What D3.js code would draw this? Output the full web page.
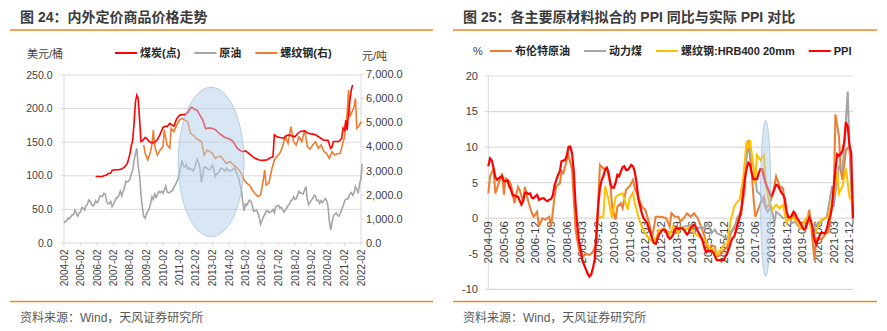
<!DOCTYPE html>
<html>
<head>
<meta charset="utf-8">
<script src="https://cdn.jsdelivr.net/npm/d3@7"></script>
<style>
  body { margin: 0; background: #fff; }
  svg { display: block; font-family: Arial, "Liberation Sans", "Noto Sans CJK SC", sans-serif; }
</style>
</head>
<body>
<svg id="chart" width="887" height="331"></svg>
<script>
// ---------- Figure 24: domestic vs. international commodity prices ----------
// Brent crude, USD/bbl, monthly from 2004-02
const oilStart = "2004-02";
const oilValues = [
  30,32,33,37,36,39,42,42,49,44,40,
  45,46,53,52,49,55,57,64,62,58,55,57,
  63,60,62,70,70,69,74,73,62,58,59,62,
  54,58,62,67,67,71,77,70,77,82,92,91,
  92,95,103,109,123,133,141,114,100,72,53,40,
  37,43,47,51,58,69,65,73,68,73,77,75,
  77,74,79,85,76,75,75,77,78,83,86,91,
  96,104,114,123,114,113,117,110,112,109,110,107,
  111,119,125,119,110,90,102,113,113,111,109,109,
  113,116,109,99,103,103,107,111,111,109,107,111,
  108,109,107,108,110,112,107,102,97,87,79,62,
  48,58,56,60,64,62,56,47,48,49,45,38,
  28,33,39,42,47,48,45,46,47,50,45,54,
  55,56,52,53,50,46,49,52,56,58,63,64,
  69,65,66,72,77,74,74,73,79,84,65,57,
  60,64,66,71,70,63,64,59,63,60,63,66,
  63,55,33,19,31,40,43,45,41,40,44,50,
  55,62,65,65,68,73,75,71,75,84,80,74,
  88,97,118
];
// Coal price index (points, left axis)
const coalMonths = ["2006-01","2006-06","2006-07","2006-09","2006-10","2006-12","2007-01","2007-03","2007-06","2007-08","2007-10","2007-12","2008-01","2008-02","2008-03","2008-04","2008-05","2008-06","2008-07","2008-08","2008-09","2008-10","2008-11","2009-01","2009-02","2009-04","2009-06","2009-08","2009-10","2009-12","2010-02","2010-04","2010-05","2010-07","2010-09","2010-10","2010-12","2011-02","2011-04","2011-06","2011-08","2011-10","2011-11","2012-01","2012-03","2012-05","2012-07","2012-09","2012-11","2013-01","2013-04","2013-07","2013-09","2013-11","2014-01","2014-04","2014-06","2014-08","2014-10","2014-12","2015-02","2015-04","2015-07","2015-09","2015-12","2016-03","2016-06","2016-08","2016-10","2016-11","2017-01","2017-03","2017-06","2017-08","2017-10","2017-12","2018-02","2018-04","2018-06","2018-09","2018-12","2019-03","2019-05","2019-08","2019-11","2020-01","2020-02","2020-03","2020-04","2020-05","2020-06","2020-08","2020-10","2020-12","2021-01","2021-02","2021-03","2021-04","2021-05","2021-06","2021-07","2021-08"];
const coalValues = [99,99,100,101,103,104,108,109,109,110,113,118,125,133,145,153,178,210,220,215,183,151,152,157,156,151,149,150,154,162,172,174,173,178,175,174,185,190,191,191,194,200,202,199,197,190,183,170,171,171,169,163,160,157,156,153,148,141,138,136,137,134,129,126,123.5,123,124,127,128,161,158,157,156,160,161,159,158,163,166,167,163,162,161,157,153,153,153,147,141,143,151,151,151,156,171,168,183,168,193,213,228,235];
// Rebar, CNY/t (right axis)
const rebarMonths = ["2008-12","2009-01","2009-03","2009-05","2009-06","2009-07","2009-08","2009-10","2009-12","2010-02","2010-03","2010-05","2010-07","2010-08","2010-10","2010-12","2011-02","2011-04","2011-06","2011-08","2011-10","2011-12","2012-02","2012-04","2012-06","2012-08","2012-10","2012-12","2013-02","2013-04","2013-06","2013-08","2013-10","2013-12","2014-03","2014-05","2014-07","2014-09","2014-11","2015-01","2015-03","2015-05","2015-07","2015-09","2015-11","2016-01","2016-03","2016-04","2016-05","2016-07","2016-09","2016-11","2017-01","2017-03","2017-05","2017-07","2017-09","2017-11","2018-01","2018-03","2018-05","2018-07","2018-09","2018-11","2019-01","2019-03","2019-05","2019-07","2019-09","2019-11","2020-01","2020-03","2020-05","2020-07","2020-09","2020-11","2021-01","2021-02","2021-03","2021-04","2021-05","2021-06","2021-07","2021-08","2021-09","2021-10","2021-11","2021-12","2022-01","2022-02"];
const rebarValues = [4070,3720,3450,3790,4100,4690,4000,3650,3860,4000,4690,4070,3930,4760,4620,4900,5100,5170,5100,5035,4550,4480,4350,4275,4200,3650,3860,3800,3720,3515,3580,3600,3450,3307,3376,3250,3168,3050,2892,2614,2476,2400,2199,2050,1922,1990,2614,3030,2406,2476,3030,3445,3600,3720,3997,4412,4135,4828,4205,4067,4412,4205,4690,3997,3900,4067,4205,3930,4067,3800,3722,3515,3790,3652,3700,3722,4205,4400,4828,5400,6350,5242,5380,5500,5659,6005,4760,4828,4900,5035];
const leftTicks = [0, 50, 100, 150, 200, 250];
const rightTicks = [0, 1000, 2000, 3000, 4000, 5000, 6000, 7000];
const yearTicks = d3.range(2004, 2023).map(y => y + "-02");
const highlight24 = { from: "2011-01", to: "2015-01", low: 9, high: 232 };

// ---------- Figure 25: fitted PPI y/y from raw materials vs. actual PPI ----------
const ppiStart = "2004-09";
const ppiValues = [
  7.3,8.4,8.1,7.1,
  5.8,5.4,5.6,5.8,5.9,5.2,5.2,5.3,4.5,4.0,3.2,3.2,
  3.1,3.0,2.5,1.9,2.4,3.5,3.6,3.4,3.5,2.9,2.8,3.1,
  3.3,2.6,2.7,2.8,2.8,2.5,2.4,2.6,2.7,3.2,4.6,5.4,
  6.1,6.6,8.0,8.1,8.2,8.8,10.0,10.1,9.1,6.6,2.0,-1.1,
  -3.3,-4.5,-6.0,-6.6,-7.2,-7.8,-8.2,-7.9,-7.0,-5.8,-2.1,1.7,
  4.3,5.4,5.9,6.8,7.1,6.4,4.8,4.3,4.3,5.0,6.1,5.9,
  6.6,7.2,7.3,6.8,6.8,7.1,7.5,7.3,6.5,5.0,2.7,1.7,
  0.7,0.0,-0.3,-0.7,-1.4,-2.1,-2.9,-3.5,-3.6,-2.8,-2.2,-1.9,
  -1.6,-1.6,-1.9,-2.6,-2.9,-2.7,-2.3,-1.6,-1.3,-1.5,-1.4,-1.4,
  -1.6,-2.0,-2.3,-2.0,-1.4,-1.1,-0.9,-1.2,-1.8,-2.2,-2.7,-3.3,
  -4.3,-4.8,-4.6,-4.6,-4.6,-4.8,-5.4,-5.9,-5.9,-5.9,-5.9,-5.9,
  -5.3,-4.9,-4.3,-3.4,-2.8,-2.6,-1.7,-0.8,0.1,1.2,3.3,5.5,
  6.9,7.8,7.6,6.4,5.5,5.5,5.5,6.3,6.9,6.9,5.8,4.9,
  4.3,3.7,3.1,3.4,4.1,4.7,4.6,4.1,3.6,3.3,2.7,0.9,
  0.1,0.1,0.4,0.9,0.6,0.0,-0.3,-0.8,-1.2,-1.6,-1.4,-0.5,
  0.1,-0.4,-1.5,-3.1,-3.7,-3.0,-2.4,-2.0,-2.1,-2.1,-1.5,-0.4,
  0.3,1.7,4.4,6.8,9.0,8.8,9.0,9.5,10.7,13.5,12.9,10.3,
  9.1,0
];
const brentMonths = ["2004-09","2004-10","2004-12","2005-01","2005-03","2005-05","2005-06","2005-07","2005-09","2005-10","2005-12","2006-02","2006-03","2006-05","2006-06","2006-08","2006-10","2006-11","2007-01","2007-02","2007-04","2007-06","2007-08","2007-09","2007-11","2007-12","2008-02","2008-03","2008-04","2008-06","2008-07","2008-09","2008-10","2008-11","2009-01","2009-03","2009-05","2009-07","2009-09","2009-11","2009-12","2010-01","2010-03","2010-05","2010-07","2010-08","2010-10","2010-11","2011-01","2011-02","2011-04","2011-06","2011-08","2011-09","2011-11","2012-01","2012-03","2012-05","2012-07","2012-09","2012-12","2013-03","2013-05","2013-06","2013-08","2013-10","2013-11","2014-01","2014-03","2014-05","2014-07","2014-09","2014-11","2015-01","2015-03","2015-05","2015-07","2015-08","2015-10","2015-12","2016-02","2016-04","2016-06","2016-08","2016-10","2016-11","2017-01","2017-02","2017-04","2017-05","2017-06","2017-08","2017-09","2017-11","2017-12","2018-02","2018-04","2018-06","2018-08","2018-10","2018-11","2019-01","2019-03","2019-04","2019-06","2019-08","2019-10","2019-12","2020-01","2020-02","2020-04","2020-05","2020-08","2020-10","2020-12","2021-01","2021-03","2021-04","2021-06","2021-07","2021-08","2021-10","2021-12","2022-01","2022-02"];
const brentValues = [3.5,5.9,7.0,3.5,4.9,6.3,3.3,5.6,5.2,4.7,2.1,4.4,4.0,2.3,4.4,2.3,0.7,0.2,0.9,-1.2,0,-0.2,0.2,-1.2,3.0,4.5,4.9,6.6,6.3,8.2,8.9,6.8,2.6,-1.6,-4.5,-5.4,-5.0,-5.2,-4.7,-3.5,2.6,7.5,7.0,7.0,4.9,1.6,-0.2,1.6,2.1,1.4,4.0,4.5,5.4,4.2,3.0,1.6,1.2,-0.5,-2.6,0.2,0.2,0,-1.2,0.7,0.2,0.2,-0.5,0,0.7,0.2,0.7,0,-1.2,-2.6,-4.5,-3.8,-4.0,-5.4,-5.2,-4.5,-4.0,-2.1,-1.4,0.2,0.5,4.0,8.7,11.0,6.3,3.0,0.2,1.4,2.1,3.0,1.4,1.9,3.3,5.9,4.5,4.2,1.6,0.2,0,0.7,-0.9,-1.2,-0.5,0,1.2,-1.2,-5.9,-2.8,-3.0,-2.3,-1.9,0.2,3.0,14.6,11.5,6.8,5.4,9.6,10.1,4.5,0.2];
const thermalCoalMonths = ["2013-01","2013-05","2013-09","2014-01","2014-05","2014-09","2014-11","2015-01","2015-03","2015-05","2015-07","2015-08","2015-10","2015-12","2016-02","2016-04","2016-06","2016-08","2016-10","2016-12","2017-01","2017-03","2017-04","2017-06","2017-07","2017-09","2017-11","2018-01","2018-02","2018-03","2018-05","2018-06","2018-08","2018-10","2018-12","2019-02","2019-03","2019-05","2019-07","2019-09","2019-11","2020-01","2020-03","2020-05","2020-07","2020-09","2020-11","2020-12","2021-02","2021-03","2021-05","2021-06","2021-08","2021-09","2021-11","2021-12","2022-01","2022-02"];
const thermalCoalValues = [-1.4,-2.0,-1.8,-1.2,-1.0,-1.5,-1.2,-1.4,-0.7,-2.1,-1.6,-2.1,-2.3,-2.6,-2.8,-1.9,-1.2,-0.2,1.2,3.5,9.1,9.6,8.4,5.9,3.8,3.3,2.1,0.9,1.2,1.9,-0.7,0.9,0.5,0,0.2,0,-0.7,-0.5,-1.2,-0.9,-0.5,-0.7,-1.6,-0.9,-0.7,-0.2,0.2,1.6,4.5,1.6,5.4,7.3,6.8,10.1,17.8,10.1,5.9,-0.7];
const rebarHrbMonths = ["2009-12","2010-02","2010-03","2010-04","2010-06","2010-07","2010-08","2010-10","2010-12","2011-02","2011-03","2011-05","2011-06","2011-08","2011-09","2011-11","2012-01","2012-03","2012-05","2012-07","2012-09","2012-11","2013-02","2013-05","2013-07","2013-10","2013-11","2014-02","2014-05","2014-07","2014-10","2015-01","2015-04","2015-07","2015-08","2015-10","2015-12","2016-02","2016-04","2016-06","2016-07","2016-09","2016-11","2017-01","2017-02","2017-03","2017-05","2017-06","2017-07","2017-09","2017-11","2017-12","2018-02","2018-04","2018-06","2018-08","2018-10","2018-12","2019-02","2019-04","2019-06","2019-08","2019-10","2019-12","2020-02","2020-04","2020-06","2020-08","2020-10","2020-12","2021-01","2021-03","2021-05","2021-06","2021-08","2021-10","2021-12","2022-02"];
const rebarHrbValues = [0,0.2,0.2,4.5,2.6,1.2,0,3.0,3.3,3.5,2.8,1.2,2.8,3.6,2.1,0.2,-1.2,-2.1,-2.8,-3.3,-2.8,-1.6,-1.6,-2.3,-1.2,-2.1,-1.2,-1.6,-1.2,-2.1,-2.6,-3.0,-4.2,-4.5,-5.2,-4.5,-3.8,-3.5,-0.2,1.6,2.1,2.6,5.4,10.8,9.8,11.0,7.3,4.9,8.9,8.2,8.9,4.9,2.3,1.2,1.9,1.4,1.9,-0.7,0.2,0,-0.5,-1.4,-0.5,0.2,-1.4,-2.3,-1.2,-0.2,0,0.2,1.6,3.5,6.5,3.5,4.5,7.0,3.0,2.1];
const pctTicks = [-10, -5, 0, 5, 10, 15, 20];
const highlight25 = { from: "2017-09", to: "2018-03", low: -8.2, high: 13.8 };

// ---------- shared helpers ----------
const svg = d3.select("#chart");
const parse = d3.timeParse("%Y-%m");
const RULE = "#F0861E";
const INK = "#404040";
const GRID = "#D9D9D9";

function pairs(months, values) {
  return months.map((m, i) => ({ date: parse(m), v: values[i] }));
}
function monthly(start, values) {
  const s = parse(start);
  return values.map((v, i) => ({ date: d3.timeMonth.offset(s, i), v }));
}

function panelFrame(x0, x1, title) {
  svg.append("text").attr("x", x0 + 10).attr("y", 22)
    .attr("font-size", 14).attr("font-weight", "bold").attr("fill", "#3b3b3b")
    .text(title);
  svg.append("line").attr("x1", x0).attr("x2", x1).attr("y1", 30).attr("y2", 30)
    .attr("stroke", RULE).attr("stroke-width", 1.5);
  svg.append("line").attr("x1", x0).attr("x2", x1).attr("y1", 301.5).attr("y2", 301.5)
    .attr("stroke", RULE).attr("stroke-width", 1.5);
  svg.append("text").attr("x", x0 + 10).attr("y", 321.5)
    .attr("font-size", 12).attr("fill", "#595959")
    .text("资料来源：Wind，天风证券研究所");
}

function legend(x, y, items) {
  let cx = x;
  items.forEach(it => {
    svg.append("line").attr("x1", cx).attr("x2", cx + 22).attr("y1", y).attr("y2", y)
      .attr("stroke", it.color).attr("stroke-width", 2);
    const t = svg.append("text").attr("x", cx + 25).attr("y", y).attr("dy", "0.35em")
      .attr("font-size", 11).attr("font-weight", "bold").attr("fill", "#262626")
      .text(it.label);
    cx += 25 + t.node().getComputedTextLength() + 14;
  });
}

// ================= Figure 24 =================
panelFrame(10, 433, "图 24：内外定价商品价格走势");

const xL = d3.scaleTime().domain([parse("2004-02"), parse("2022-02")]).range([64, 361]);
const yL = d3.scaleLinear().domain([0, 250]).range([243, 75]);
const yR = d3.scaleLinear().domain([0, 7000]).range([243, 74.3]);

const gL = svg.append("g");
leftTicks.forEach(t => {
  gL.append("line").attr("x1", 61).attr("x2", 361).attr("y1", yL(t)).attr("y2", yL(t))
    .attr("stroke", GRID).attr("stroke-width", 1);
  gL.append("text").attr("x", 52.5).attr("y", yL(t)).attr("dy", "0.35em")
    .attr("text-anchor", "end").attr("font-size", 10.5).attr("fill", INK)
    .text(d3.format(".1f")(t));
});
rightTicks.forEach(t => {
  gL.append("line").attr("x1", 361).attr("x2", 364).attr("y1", yR(t)).attr("y2", yR(t))
    .attr("stroke", GRID);
  gL.append("text").attr("x", 366).attr("y", yR(t)).attr("dy", "0.35em")
    .attr("font-size", 11).attr("fill", INK)
    .text(d3.format(",.1f")(t));
});
gL.append("line").attr("x1", 64).attr("x2", 64).attr("y1", 75).attr("y2", 243).attr("stroke", GRID);
gL.append("line").attr("x1", 361).attr("x2", 361).attr("y1", 74).attr("y2", 243).attr("stroke", GRID);
yearTicks.forEach(m => {
  const x = xL(parse(m));
  gL.append("line").attr("x1", x).attr("x2", x).attr("y1", 243).attr("y2", 246).attr("stroke", GRID);
  gL.append("text").attr("transform", `translate(${x},249.5) rotate(-90)`)
    .attr("dy", "0.35em").attr("text-anchor", "end")
    .attr("font-size", 10).attr("fill", INK).text(m);
});

const lineOil = d3.line().x(d => xL(d.date)).y(d => yL(d.v));
const lineRebar = d3.line().x(d => xL(d.date)).y(d => yR(d.v));
gL.append("path").datum(monthly(oilStart, oilValues)).attr("d", lineOil)
  .attr("fill", "none").attr("stroke", "#A5A5A5").attr("stroke-width", 1.6);
gL.append("path").datum(pairs(rebarMonths, rebarValues)).attr("d", lineRebar)
  .attr("fill", "none").attr("stroke", "#ED7D31").attr("stroke-width", 1.6);
gL.append("path").datum(pairs(coalMonths, coalValues)).attr("d", lineOil)
  .attr("fill", "none").attr("stroke", "#FF0000").attr("stroke-width", 1.6);

// highlighted window
{
  const x0 = xL(parse(highlight24.from)), x1 = xL(parse(highlight24.to));
  const y0 = yL(highlight24.high), y1 = yL(highlight24.low);
  gL.append("ellipse").attr("cx", (x0 + x1) / 2).attr("cy", (y0 + y1) / 2)
    .attr("rx", (x1 - x0) / 2).attr("ry", (y1 - y0) / 2)
    .attr("fill", "rgb(180,205,232)").attr("fill-opacity", 0.5)
    .attr("stroke", "rgb(150,185,220)").attr("stroke-opacity", 0.6);
}

svg.append("text").attr("x", 27).attr("y", 54).attr("dy", "0.35em")
  .attr("font-size", 11).attr("fill", INK).text("美元/桶");
svg.append("text").attr("x", 362).attr("y", 56).attr("dy", "0.35em")
  .attr("font-size", 11).attr("fill", INK).text("元/吨");
legend(115, 53, [
  { label: "煤炭(点)", color: "#FF0000" },
  { label: "原油", color: "#A5A5A5" },
  { label: "螺纹钢(右)", color: "#ED7D31" }
]);

// ================= Figure 25 =================
panelFrame(453, 877, "图 25：各主要原材料拟合的 PPI 同比与实际 PPI 对比");

const xP = d3.scaleTime().domain([parse("2004-09"), parse("2022-02")]).range([488.3, 853]);
const yP = d3.scaleLinear().domain([-10, 20]).range([289.3, 76]);

const gP = svg.append("g");
pctTicks.forEach(t => {
  gP.append("line").attr("x1", 485).attr("x2", 853).attr("y1", yP(t)).attr("y2", yP(t))
    .attr("stroke", GRID).attr("stroke-width", 1.2);
  gP.append("text").attr("x", 478).attr("y", yP(t)).attr("dy", "0.35em")
    .attr("text-anchor", "end").attr("font-size", 11).attr("fill", INK).text(t);
});
gP.append("line").attr("x1", 488.3).attr("x2", 488.3).attr("y1", 76).attr("y2", 289.3).attr("stroke", GRID);

const labelMonths = d3.range(0, 24).map(k => d3.timeMonth.offset(parse("2004-09"), k * 9));
labelMonths.forEach(d => {
  gP.append("text").attr("transform", `translate(${xP(d)},${yP(0) + 3}) rotate(-90)`)
    .attr("dy", "0.35em").attr("text-anchor", "end")
    .attr("font-size", 11.5).attr("fill", INK).text(d3.timeFormat("%Y-%m")(d));
});

const lineP = d3.line().x(d => xP(d.date)).y(d => yP(d.v));
gP.append("path").datum(pairs(brentMonths, brentValues)).attr("d", lineP)
  .attr("fill", "none").attr("stroke", "#ED7D31").attr("stroke-width", 2);
gP.append("path").datum(pairs(thermalCoalMonths, thermalCoalValues)).attr("d", lineP)
  .attr("fill", "none").attr("stroke", "#A5A5A5").attr("stroke-width", 2);
gP.append("path").datum(pairs(rebarHrbMonths, rebarHrbValues)).attr("d", lineP)
  .attr("fill", "none").attr("stroke", "#FFC000").attr("stroke-width", 2);
gP.append("path").datum(monthly(ppiStart, ppiValues)).attr("d", lineP)
  .attr("fill", "none").attr("stroke", "#FF0000").attr("stroke-width", 2.2);

{
  const x0 = xP(parse(highlight25.from)), x1 = xP(parse(highlight25.to));
  const y0 = yP(highlight25.high), y1 = yP(highlight25.low);
  gP.append("ellipse").attr("cx", (x0 + x1) / 2).attr("cy", (y0 + y1) / 2)
    .attr("rx", (x1 - x0) / 2).attr("ry", (y1 - y0) / 2)
    .attr("fill", "rgb(180,205,232)").attr("fill-opacity", 0.5)
    .attr("stroke", "rgb(150,185,220)").attr("stroke-opacity", 0.6);
}

svg.append("text").attr("x", 473).attr("y", 51).attr("dy", "0.35em")
  .attr("font-size", 11).attr("fill", INK).text("%");
legend(490, 51, [
  { label: "布伦特原油", color: "#ED7D31" },
  { label: "动力煤", color: "#A5A5A5" },
  { label: "螺纹钢:HRB400 20mm", color: "#FFC000" },
  { label: "PPI", color: "#FF0000" }
]);
</script>
</body>
</html>
